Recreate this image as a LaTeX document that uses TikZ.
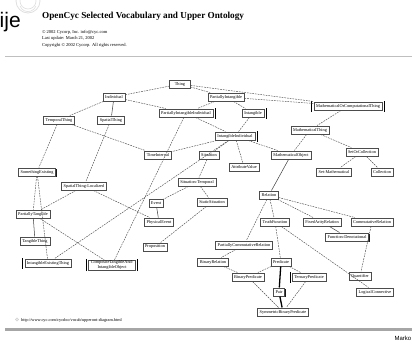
\documentclass[tikz,border=0pt]{standalone}
\usepackage{fontspec}
\setmainfont{Liberation Serif}
\newfontfamily\sansf{Liberation Sans}
\usetikzlibrary{shadows}
\tikzset{
  nd/.style={draw=black!70, line width=0.4pt, fill=white,
    font=\fontsize{4.3}{4.8}\selectfont, inner xsep=2.2pt, inner ysep=0.6pt,
    minimum height=8.6pt,
    drop shadow={shadow xshift=0.9pt, shadow yshift=-1pt, fill=black, opacity=0.9}},
  dl/.style={draw=black!70, line width=0.45pt, dash pattern=on 1.7pt off 1pt},
  sl/.style={draw=black!75, line width=0.5pt},
  tl/.style={draw=black, line width=1.3pt},
  bar/.style={draw=black, line width=0.8pt},
  hdr/.style={anchor=base west, inner sep=0pt, font=\fontsize{4.5}{5}\selectfont},
}
\begin{document}
\begin{tikzpicture}[x=1pt,y=1pt]
\useasboundingbox (0,0) rectangle (412,-345);
\fill[white] (0,0) rectangle (412,-345);

% logo
\begin{scope}
\clip (0,0) rectangle (60,-20);
\draw[black!12, line width=0.8pt] (28,-1) circle (12);
\draw[black!12, line width=0.6pt] (28,-1) circle (8);
\draw[black!12, line width=0.6pt] (20,-6) arc (200:340:8.5);
\end{scope}
\node[anchor=base west, inner sep=0pt, font=\sansf\fontsize{21}{21}\selectfont] (ije) at (-0.5,-28) {ije};

% header
\node[anchor=base west, inner sep=0pt, font=\bfseries\fontsize{9.2}{10}\selectfont] (title) at (42,-19) {OpenCyc Selected Vocabulary and Upper Ontology};
\node[hdr] (h1) at (42,-33.5) {© 2002 Cycorp, Inc. info@cyc.com};
\node[hdr] (h2) at (42,-40) {Last update: March 21, 2002};
\node[hdr] (h3) at (42,-46.5) {Copyright © 2002 Cycorp. All rights reserved.};
\draw[black!25, line width=1pt] (5,-57) -- (412,-57);

% nodes
\node[nd, minimum width=21pt] (thing) at (180,-84) {Thing};
\node[nd] (indiv) at (114,-97) {Individual};
\node[nd] (pint) at (226,-97) {PartiallyIntangible};
\node[nd] (mct) at (348,-106) {MathematicalOrComputationalThing};
\node[nd] (temp) at (59,-120) {TemporalThing};
\node[nd] (spat) at (111,-120) {SpatialThing};
\node[nd] (pii) at (186,-113) {PartiallyIntangibleIndividual};
\node[nd] (intg) at (253,-113) {Intangible};
\node[nd] (ii) at (235,-136) {IntangibleIndividual};
\node[nd] (mthing) at (310,-130) {MathematicalThing};
\node[nd] (soc) at (362,-152) {SetOrCollection};
\node[nd] (setm) at (334,-172) {Set-Mathematical};
\node[nd] (coll) at (382,-172) {Collection};
\node[nd] (ti) at (158,-155) {TimeInterval};
\node[nd] (sit) at (209,-155) {Situation};
\node[nd] (av) at (244,-167) {AttributeValue};
\node[nd] (mobj) at (291,-155) {MathematicalObject};
\node[nd] (rel) at (269,-195) {Relation};
\node[nd] (sitt) at (197,-182) {Situation-Temporal};
\node[nd] (event) at (156,-203) {Event};
\node[nd] (stat) at (212,-202) {StaticSituation};
\node[nd] (pev) at (159,-222) {PhysicalEvent};
\node[nd] (sex) at (37,-172) {SomethingExisting};
\node[nd] (stl) at (84,-186) {SpatialThing-Localized};
\node[nd] (ptang) at (33,-214) {PartiallyTangible};
\node[nd] (tang) at (35,-241) {TangibleThing};
\node[nd] (iet) at (48,-263) {IntangibleExistingThing};
\node[nd, align=center, font=\fontsize{4.3}{4.6}\selectfont] (ctio) at (112,-265) {CompositeTangibleAnd-\\IntangibleObject};
\node[nd] (prop) at (155,-247) {Proposition};
\node[nd] (tf) at (275,-222) {TruthFunction};
\node[nd] (far) at (322,-222) {FixedArityRelation};
\node[nd] (cr) at (372,-222) {CommutativeRelation};
\node[nd] (fd) at (347,-237) {Function-Denotational};
\node[nd] (pw) at (244,-245) {PartiallyCommutativeRelation};
\node[nd] (br) at (213,-262) {BinaryRelation};
\node[nd] (bp) at (248,-277) {BinaryPredicate};
\node[nd] (pred) at (281,-262) {Predicate};
\node[nd] (tp) at (309,-277) {TernaryPredicate};
\node[nd] (pair) at (279,-292) {Pair};
\node[nd] (bpx) at (283,-312) {SymmetricBinaryPredicate};
\node[nd] (q) at (360,-276) {Quantifier};
\node[nd] (lc) at (375,-292) {LogicalConnective};

% side bars
\draw[bar] ([xshift=2pt,yshift=-1pt]pii.south east) -- ([xshift=2pt,yshift=1pt]pii.north east);
\draw[bar] ([xshift=2pt,yshift=-1pt]intg.south east) -- ([xshift=2pt,yshift=1pt]intg.north east);
\draw[bar] ([xshift=2pt,yshift=-1pt]ii.south east) -- ([xshift=2pt,yshift=1pt]ii.north east);
\draw[bar] ([xshift=2pt,yshift=-1pt]mct.south east) -- ([xshift=2pt,yshift=1pt]mct.north east);
\draw[bar] ([xshift=-2pt,yshift=-1pt]mct.south west) -- ([xshift=-2pt,yshift=1pt]mct.north west);
\draw[bar] ([xshift=-2pt,yshift=-1pt]iet.south west) -- ([xshift=-2pt,yshift=1pt]iet.north west);
\draw[bar] ([xshift=2pt,yshift=-1pt]ctio.south east) -- ([xshift=2pt,yshift=1pt]ctio.north east);
\draw[bar] ([xshift=-2pt,yshift=-1pt]ctio.south west) -- ([xshift=-2pt,yshift=1pt]ctio.north west);
\draw[bar] ([xshift=-2pt,yshift=-1pt]tp.south west) -- ([xshift=-2pt,yshift=1pt]tp.north west);

% connectors
\draw[dl] (thing) -- (indiv);
\draw[dl] (thing) -- (pint);
\draw[dl] (thing) -- (mct);
\draw[dl] (pint) -- (mct);
\draw[dl] (indiv) -- (temp);
\draw[sl] (indiv) -- (spat);
\draw[dl] (indiv) -- (pii);
\draw[dl] (pint) -- (pii);
\draw[dl] (pint) -- (intg);
\draw[dl] (pii) -- (ii);
\draw[dl] (intg) -- (ii);
\draw[dl] (mct) -- (mthing);
\draw[dl] (mthing) -- (soc);
\draw[dl] (mthing) -- (mobj);
\draw[dl] (soc) -- (setm);
\draw[dl] (soc) -- (coll);
\draw[dl] (ii) -- (ti);
\draw[dl] (ii) -- (sit);
\draw[dl] (ii) -- (av);
\draw[dl] (ii) -- (mobj);
\draw[dl] (ii) -- (iet);
\draw[dl] (temp) -- (ti);
\draw[dl] (temp) -- (sex);
\draw[dl] (spat) -- (stl);
\draw[dl] (pii) -- (ctio);
\draw[dl] (sex) -- (ptang);
\draw[dl] (sex) -- (iet);
\draw[dl] (stl) -- (ptang);
\draw[dl] (stl) -- (pev);
\draw[sl] (ptang) -- (tang);
\draw[dl] (ptang) -- (ctio);
\draw[sl] (event) -- (pev);
\draw[dl] (sitt) -- (event);
\draw[dl] (sitt) -- (stat);
\draw[dl] (sit) -- (sitt);
\draw[dl] (stat) -- (prop);
\draw[sl] (mobj) -- (rel);
\draw[dl] (rel) -- (tf);
\draw[dl] (rel) -- (far);
\draw[dl] (rel) -- (cr);
\draw[dl] (rel) -- (pw);
\draw[dl] (tf) -- (pred);
\draw[dl] (tf) -- (lc);
\draw[sl] (far) -- (fd);
\draw[dl] (cr) -- (q);
\draw[dl] (pw) -- (br);
\draw[dl] (br) -- (bp);
\draw[dl] (pred) -- (bp);
\draw[dl] (pred) -- (tp);
\draw[tl] (pred) -- (pair);
\draw[tl] (pair) -- (bpx);
\draw[dl] (tp) -- (bpx);
\draw[dl] (bp) -- (bpx);

% footer
\draw[black!20, fill=black!8, line width=0.3pt] (17,-319.5) circle (1.6);
\node[anchor=base west, inner sep=0pt, font=\fontsize{4.3}{5}\selectfont] (url) at (21,-321) {http://www.cyc.com/cycdoc/vocab/upperont-diagram.html};
\draw[black!35, line width=2.6pt] (5,-329.5) -- (412,-329.5);
\node[anchor=base east, inner sep=0pt, font=\sansf\fontsize{6}{6}\selectfont] (marko) at (411.5,-340) {Marko};
\end{tikzpicture}
\end{document}
